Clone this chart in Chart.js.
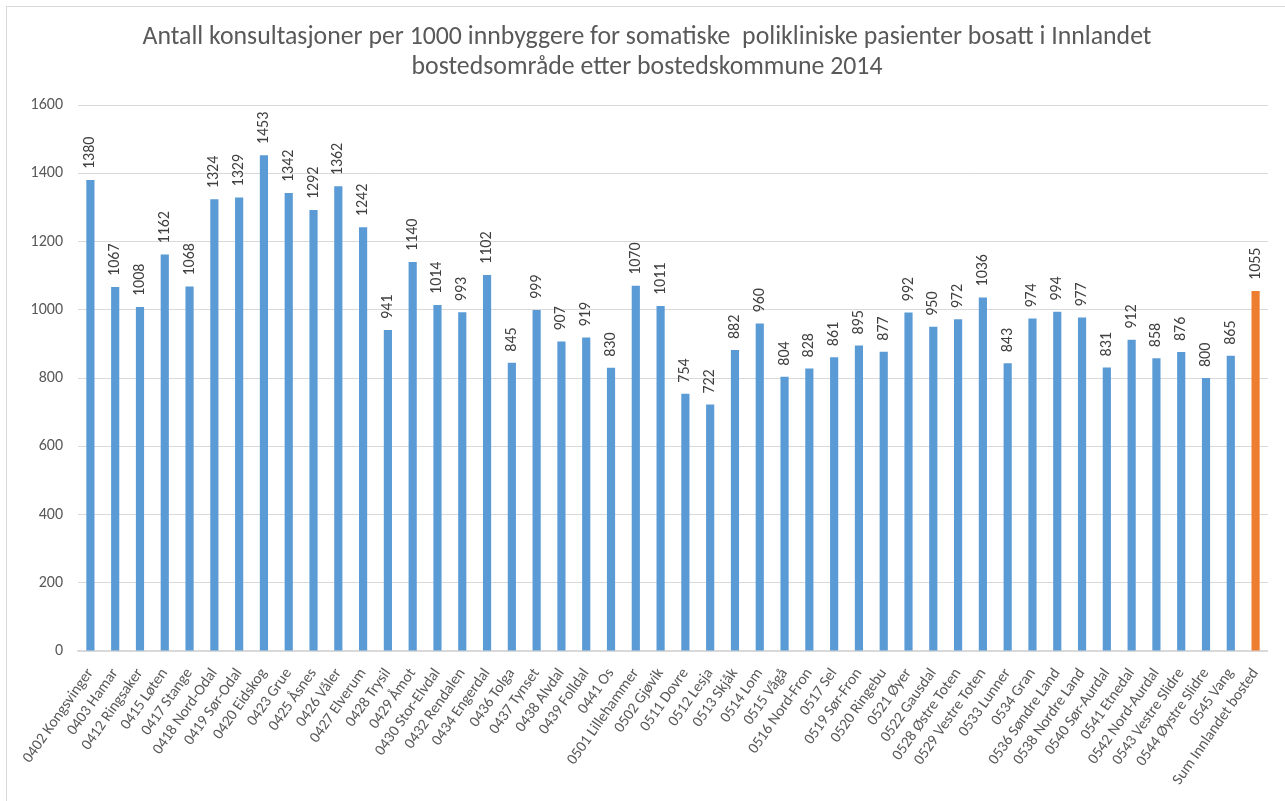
<!DOCTYPE html>
<html>
<head>
<meta charset="utf-8">
<script src="https://cdn.jsdelivr.net/npm/chart.js@4.4.1/dist/chart.umd.min.js"></script>
<style>
  html, body { margin: 0; padding: 0; background: #fff; overflow: hidden; }
  #frame { position: absolute; left: 6px; top: 6px; width: 1300px; height: 820px;
           border: 1px solid #d9d9d9; box-sizing: border-box; }
  #wrap { position: absolute; left: 0; top: 0; width: 1285px; height: 801px; }
</style>
</head>
<body>
<div id="frame"></div>
<div id="wrap"><canvas id="mycanvas1" width="1285" height="801"></canvas></div>
<script>
// Konsultasjoner per 1000 innbyggere, bostedskommune 2014
var tittel = [
  'Antall konsultasjoner per 1000 innbyggere for somatiske  polikliniske pasienter bosatt i Innlandet',
  'bostedsområde etter bostedskommune 2014'
];
var kommuner = [
  "0402 Kongsvinger", "0403 Hamar", "0412 Ringsaker", "0415 Løten", "0417 Stange",
  "0418 Nord-Odal", "0419 Sør-Odal", "0420 Eidskog", "0423 Grue", "0425 Åsnes",
  "0426 Våler", "0427 Elverum", "0428 Trysil", "0429 Åmot", "0430 Stor-Elvdal",
  "0432 Rendalen", "0434 Engerdal", "0436 Tolga", "0437 Tynset", "0438 Alvdal",
  "0439 Folldal", "0441 Os", "0501 Lillehammer", "0502 Gjøvik", "0511 Dovre",
  "0512 Lesja", "0513 Skjåk", "0514 Lom", "0515 Vågå", "0516 Nord-Fron",
  "0517 Sel", "0519 Sør-Fron", "0520 Ringebu", "0521 Øyer", "0522 Gausdal",
  "0528 Østre Toten", "0529 Vestre Toten", "0533 Lunner", "0534 Gran", "0536 Søndre Land",
  "0538 Nordre Land", "0540 Sør-Aurdal", "0541 Etnedal", "0542 Nord-Aurdal", "0543 Vestre Slidre",
  "0544 Øystre Slidre", "0545 Vang", "Sum Innlandet bosted"
];
var konsultasjoner = [
  1380, 1067, 1008, 1162, 1068,
  1324, 1329, 1453, 1342, 1292,
  1362, 1242, 941, 1140, 1014,
  993, 1102, 845, 999, 907,
  919, 830, 1070, 1011, 754,
  722, 882, 960, 804, 828,
  861, 895, 877, 992, 950,
  972, 1036, 843, 974, 994,
  977, 831, 912, 858, 876,
  800, 865, 1055
];
var yMax = 1600;
var yStep = 200;

var blue = '#5b9bd5';
var orange = '#ed7d31';
var fontFam = "Carlito, 'Open Sans', sans-serif";

var barColors = kommuner.map(function (k) {
  return k.indexOf('Sum') === 0 ? orange : blue;
});

// two-line heading, centred over the whole frame
var overskrift = {
  id: 'overskrift',
  afterDraw: function (chart) {
    var ctx = chart.ctx;
    ctx.save();
    ctx.font = '25.8px ' + fontFam;
    ctx.fillStyle = '#595959';
    ctx.textAlign = 'center';
    ctx.textBaseline = 'middle';
    tittel.forEach(function (linje, i) {
      ctx.fillText(linje, 647, 38 + i * 30);
    });
    ctx.restore();
  }
};

// value labels written vertically above each bar
var verdiEtiketter = {
  id: 'verdiEtiketter',
  afterDatasetsDraw: function (chart) {
    var ctx = chart.ctx;
    var meta = chart.getDatasetMeta(0);
    var data = chart.data.datasets[0].data;
    ctx.save();
    ctx.font = '16px ' + fontFam;
    ctx.fillStyle = '#404040';
    ctx.textAlign = 'left';
    ctx.textBaseline = 'middle';
    meta.data.forEach(function (bar, i) {
      ctx.save();
      ctx.translate(bar.x, bar.y - 11);
      ctx.rotate(-Math.PI / 2);
      ctx.fillText(String(data[i]), 0, 0);
      ctx.restore();
    });
    ctx.restore();
  }
};

var ctx = document.getElementById('mycanvas1');

var barGraph = new Chart(ctx, {
  type: 'bar',
  data: {
    labels: kommuner,
    datasets: [{
      label: 'Konsultasjoner per 1000',
      data: konsultasjoner,
      backgroundColor: barColors,
      borderWidth: 0,
      barPercentage: 0.33,
      categoryPercentage: 1.0
    }]
  },
  options: {
    responsive: false,
    animation: false,
    layout: { padding: { left: 0, right: 17, top: 105, bottom: 0 } },
    plugins: {
      legend: { display: false },
      tooltip: { enabled: false },
      title: { display: false }
    },
    scales: {
      x: {
        grid: { display: false, drawTicks: false },
        border: { color: '#d9d9d9', width: 1.5 },
        ticks: {
          color: '#595959',
          font: { family: fontFam, size: 15.5 },
          maxRotation: 55,
          minRotation: 55,
          autoSkip: false,
          padding: 14
        },
        afterFit: function (scale) { scale.height = 150; }
      },
      y: {
        min: 0,
        max: yMax,
        grid: { color: '#d9d9d9', drawTicks: false },
        border: { display: false },
        ticks: {
          stepSize: yStep,
          color: '#595959',
          font: { family: fontFam, size: 16 },
          padding: 15,
          callback: function (v) { return String(v); }
        },
        afterFit: function (scale) { scale.width = 78; }
      }
    }
  },
  plugins: [verdiEtiketter, overskrift]
});
</script>
</body>
</html>
